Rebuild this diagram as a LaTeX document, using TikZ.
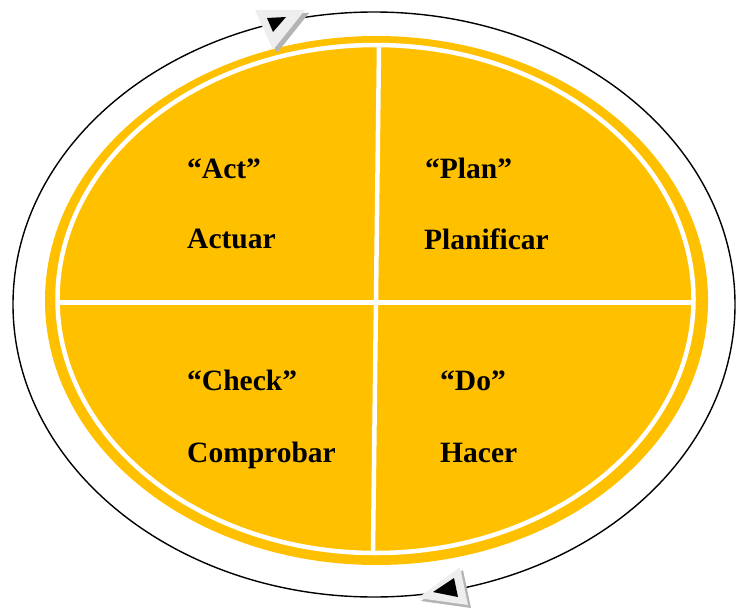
\documentclass[tikz,border=0pt]{standalone}
\usepackage{fontspec}
\setmainfont{Liberation Serif}
\definecolor{gold}{HTML}{FFC000}
\definecolor{tri}{HTML}{EEEEEE}
\definecolor{trishadow}{HTML}{B4B4B4}
\begin{document}
\begin{tikzpicture}[x=1pt,y=-1pt,
  lbl/.style={anchor=base west,inner sep=0pt,font=\fontsize{29.5}{30}\selectfont\bfseries},
  divider/.style={white,line width=4.5pt}]
\useasboundingbox (0,0) rectangle (738,610);
% outer cycle
\draw[black,line width=1.4pt] (374,304.5) ellipse [x radius=361,y radius=292.5];
% main disc
\fill[gold] (376.5,300.5) ellipse [x radius=331.5,y radius=264.5];
\draw[divider] (375.5,299) ellipse [x radius=318,y radius=254];
\draw[divider] (58,302.5) -- (694,302.5);
\draw[divider,line cap=round] (379,46) -- (373,551);
% top arrow
\fill[trishadow] (259,13) -- (309,13) -- (277,53) -- cycle;
\fill[tri] (255,10) -- (305,10) -- (273,50) -- cycle;
\fill[black] (267,18) -- (286,17) -- (273,32) -- cycle;
% bottom arrow
\fill[trishadow] (421,601) -- (463,570) -- (471,608) -- cycle;
\fill[tri] (418,598) -- (460,567) -- (468,605) -- cycle;
\fill[black] (433,592) -- (454,578) -- (458,597) -- cycle;
% labels
\node[lbl] (act) at (187,178) {“Act”};
\node[lbl] (actuar) at (187,248) {Actuar};
\node[lbl] (plan) at (425,178) {“Plan”};
\node[lbl] (planificar) at (424,249) {Planificar};
\node[lbl] (check) at (187,390) {“Check”};
\node[lbl] (comprobar) at (187,462) {Comprobar};
\node[lbl] (do) at (440,390) {“Do”};
\node[lbl] (hacer) at (440,462) {Hacer};
\end{tikzpicture}
\end{document}
